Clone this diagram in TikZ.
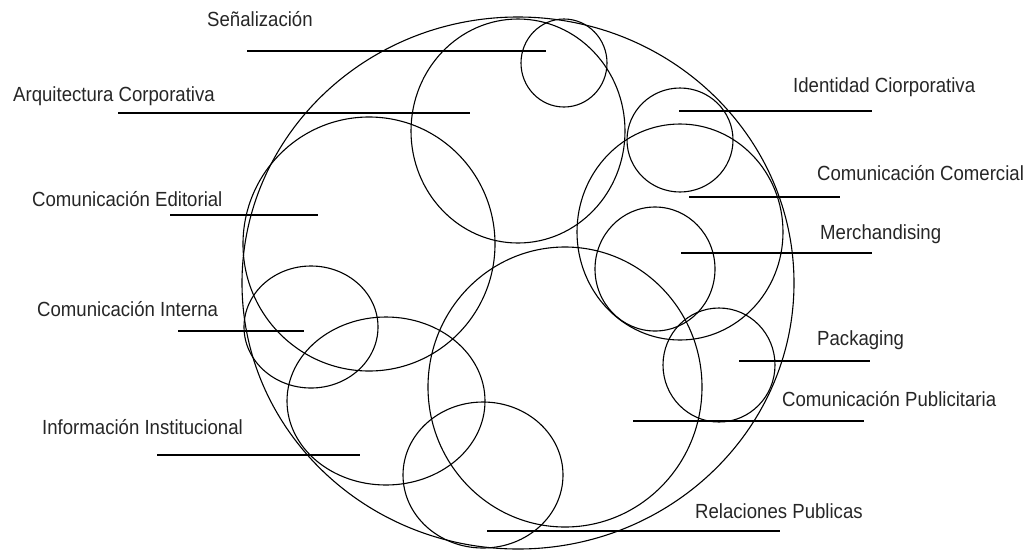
\documentclass[tikz,border=0pt]{standalone}
\usepackage{fontspec}
\setmainfont{Liberation Sans}
\usepackage{tikz}
\usetikzlibrary{positioning}

\begin{document}
\begin{tikzpicture}[x=1pt, y=-1pt,
    ring/.style={draw=black, line width=1.1pt},
    lead/.style={draw=black, line width=1.1pt},
    lbl/.style={font=\fontsize{18.6}{20}\selectfont, text=black!85, anchor=base west, inner sep=0pt, yscale=1.1, transform shape}
]
  \useasboundingbox (0,0) rectangle (1031,550);
  % outer ring and the overlapping areas
  \draw[ring] (518,283) ellipse [x radius=276pt, y radius=266pt];
  \draw[ring] (564,63) ellipse [x radius=43pt, y radius=44pt];
  \draw[ring] (518,131) ellipse [x radius=107pt, y radius=112pt];
  \draw[ring] (680,140) ellipse [x radius=53pt, y radius=52pt];
  \draw[ring] (680,232) ellipse [x radius=103pt, y radius=108pt];
  \draw[ring] (655,269) ellipse [x radius=60pt, y radius=62pt];
  \draw[ring] (719,365) ellipse [x radius=56pt, y radius=57pt];
  \draw[ring] (565,387) ellipse [x radius=137pt, y radius=140pt];
  \draw[ring] (369,244) ellipse [x radius=126pt, y radius=127pt];
  \draw[ring] (311,327) ellipse [x radius=67pt, y radius=61pt];
  \draw[ring] (386,401) ellipse [x radius=99pt, y radius=84pt];
  \draw[ring] (483,475) ellipse [x radius=80pt, y radius=73pt];
  % labels
  \node[lbl] (senal) at (207,26) {Señalización};
  \node[lbl] (arq) at (13,101) {Arquitectura Corporativa};
  \node[lbl] (edit) at (32,206) {Comunicación Editorial};
  \node[lbl] (interna) at (37,316) {Comunicación Interna};
  \node[lbl] (instit) at (42,434) {Información Institucional};
  \node[lbl] (ident) at (793,92) {Identidad Ciorporativa};
  \node[lbl] (comer) at (817,180) {Comunicación Comercial};
  \node[lbl] (merch) at (820,239) {Merchandising};
  \node[lbl] (pack) at (817,345) {Packaging};
  \node[lbl] (publi) at (782,406) {Comunicación Publicitaria};
  \node[lbl] (relac) at (695,518) {Relaciones Publicas};
  % leader lines
  \coordinate (senal-a) at (247,51);   \coordinate (senal-b) at (546,51);
  \coordinate (arq-a) at (118,113);    \coordinate (arq-b) at (470,113);
  \coordinate (edit-a) at (170,215);   \coordinate (edit-b) at (318,215);
  \coordinate (interna-a) at (178,331); \coordinate (interna-b) at (304,331);
  \coordinate (instit-a) at (157,455); \coordinate (instit-b) at (360,455);
  \coordinate (ident-a) at (679,111);  \coordinate (ident-b) at (872,111);
  \coordinate (comer-a) at (689,197);  \coordinate (comer-b) at (840,197);
  \coordinate (merch-a) at (681,253);  \coordinate (merch-b) at (872,253);
  \coordinate (pack-a) at (739,361);   \coordinate (pack-b) at (870,361);
  \coordinate (publi-a) at (633,421);  \coordinate (publi-b) at (864,421);
  \coordinate (relac-a) at (487,531);  \coordinate (relac-b) at (780,531);
  \draw[lead] (senal-a) -- (senal-b);
  \draw[lead] (arq-a) -- (arq-b);
  \draw[lead] (edit-a) -- (edit-b);
  \draw[lead] (interna-a) -- (interna-b);
  \draw[lead] (instit-a) -- (instit-b);
  \draw[lead] (ident-a) -- (ident-b);
  \draw[lead] (comer-a) -- (comer-b);
  \draw[lead] (merch-a) -- (merch-b);
  \draw[lead] (pack-a) -- (pack-b);
  \draw[lead] (publi-a) -- (publi-b);
  \draw[lead] (relac-a) -- (relac-b);
\end{tikzpicture}
\end{document}
